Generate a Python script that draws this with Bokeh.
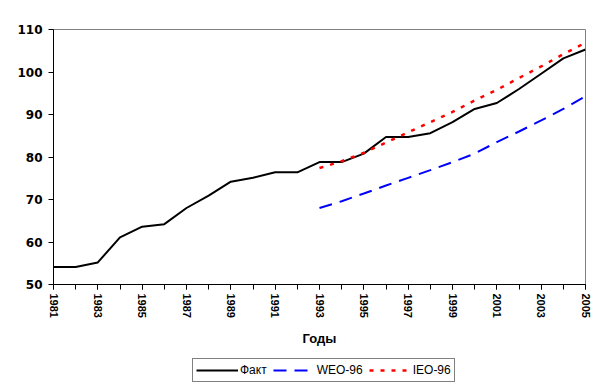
from bokeh.plotting import figure
from bokeh.models import Legend, LegendItem, FixedTicker, Range1d
from bokeh.layouts import column
from bokeh.embed import file_html
from bokeh.resources import INLINE

years = list(range(1981, 2006))
fact = [54.1, 54.1, 55.2, 61.1, 63.6, 64.2, 68.0, 70.9, 74.2, 75.1, 76.4, 76.4, 78.8, 78.8,
        80.8, 84.7, 84.7, 85.6, 88.2, 91.3, 92.7, 96.0, 99.6, 103.2, 105.3]
fc_years = list(range(1993, 2006))
weo = [68.0, 69.6, 71.4, 73.3, 75.1, 76.9, 78.8, 80.8, 83.5, 86.0, 88.6, 91.3, 94.3]
ieo = [77.4, 79.0, 81.0, 83.4, 85.8, 88.2, 90.6, 93.3, 95.8, 98.6, 101.3, 104.2, 106.9]
x_major = list(range(1981, 2006, 2))
y_major = [50, 60, 70, 80, 90, 100, 110]
series_names = ["Факт", "WEO-96", "IEO-96"]

FONT = "Liberation Sans"
styles = [dict(line_color="black", line_width=2),
          dict(line_color="#0000FF", line_width=2, line_dash="13 8"),
          dict(line_color="#FF0000", line_width=2.5, line_dash="4 7")]

p = figure(width=604, height=348, output_backend="svg", toolbar_location=None,
           x_range=Range1d(1981, 2005), y_range=Range1d(50, 110),
           min_border_left=53, min_border_right=19, min_border_top=29, min_border_bottom=64)
p.outline_line_color = "#808080"
p.outline_line_width = 1
p.xgrid.visible = False
p.ygrid.visible = False

p.line(years, fact, **styles[0])
p.line(fc_years, weo, **styles[1])
p.line(fc_years, ieo, **styles[2])

xa = p.xaxis[0]
xa.ticker = FixedTicker(ticks=x_major, minor_ticks=years)
xa.major_label_orientation = "vertical"
xa.major_label_text_font = FONT
xa.major_label_text_font_style = "bold"
xa.major_label_text_font_size = "11px"
xa.major_label_text_color = "black"
xa.major_label_standoff = 4
xa.axis_label = "Годы"
xa.axis_label_text_font = FONT
xa.axis_label_text_font_style = "bold"
xa.axis_label_text_font_size = "13px"
xa.axis_label_text_color = "black"
xa.axis_label_standoff = 10
xa.major_tick_in = 0
xa.major_tick_out = 5
xa.minor_tick_in = 0
xa.minor_tick_out = 5
xa.axis_line_color = "black"

ya = p.yaxis[0]
ya.ticker = FixedTicker(ticks=y_major, minor_ticks=[])
ya.major_label_text_font = "DejaVu Sans"
ya.major_label_text_font_style = "bold"
ya.major_label_text_font_size = "12px"
ya.major_label_text_color = "black"
ya.major_label_standoff = 6
ya.major_tick_in = 0
ya.major_tick_out = 5
ya.minor_tick_out = 0
ya.axis_line_color = "black"

# legend strip below the chart (series drawn outside its visible range, only the legend shows)
p2 = figure(width=604, height=44, output_backend="svg", toolbar_location=None,
            x_range=Range1d(0, 1), y_range=Range1d(0, 1),
            x_axis_location=None, y_axis_location=None,
            min_border_left=0, min_border_right=0, min_border_top=0, min_border_bottom=0)
p2.outline_line_color = None
p2.xgrid.visible = False
p2.ygrid.visible = False
items = []
for name, xs, ys, st in zip(series_names, [years, fc_years, fc_years], [fact, weo, ieo], styles):
    r = p2.line(xs, ys, **st)
    items.append(LegendItem(label=name, renderers=[r]))

legend = Legend(items=items, orientation="horizontal", location=(139, 10))
legend.label_text_font = FONT
legend.label_text_font_size = "12px"
legend.label_text_color = "black"
legend.border_line_color = "black"
legend.border_line_width = 1
legend.background_fill_color = "white"
legend.padding = 3
legend.spacing = 6
legend.glyph_width = 42
legend.glyph_height = 16
legend.label_height = 16
legend.label_standoff = 2
legend.margin = 0
p2.add_layout(legend, "center")

layout = column(p, p2, spacing=0)
open("out.html", "w").write(file_html(layout, INLINE))
